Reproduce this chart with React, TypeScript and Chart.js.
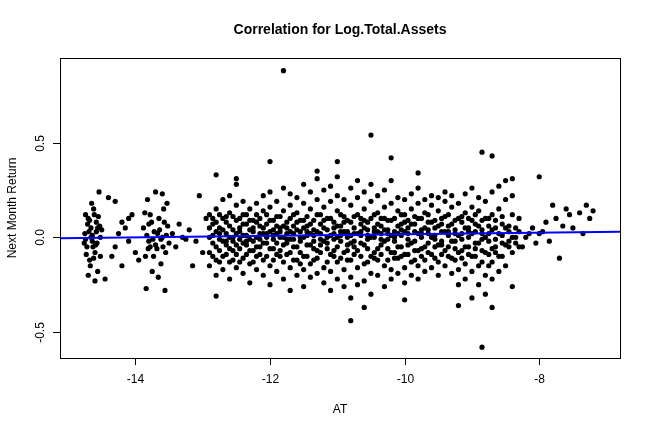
import { useEffect, useRef } from 'react';
import { Chart, registerables } from 'chart.js';

Chart.register(...registerables);

// sparse groups
const leftPts: [number, number][] = [
  [-14.75,0.02],[-14.72,-0.05],[-14.7,0.1],[-14.68,-0.12],[-14.66,0.05],[-14.64,-0.02],[-14.62,0.15],[-14.6,-0.08],
  [-14.58,0.08],[-14.56,-0.18],[-14.54,0.24],[-14.52,0.0],[-14.74,0.12],[-14.7,-0.2],[-14.65,0.18],[-14.6,-0.23],
  [-14.55,0.11],[-14.52,-0.1],[-14.73,-0.09],[-14.69,0.03],[-14.63,-0.05],[-14.58,0.03],[-14.53,0.06],[-14.71,0.07],
  [-14.67,-0.15],[-14.61,0.12],[-14.57,-0.03],[-14.5,0.04],[-14.76,-0.03],[-14.66,0.0],
  [-14.74,-0.01],[-14.68,0.09],[-14.62,-0.11],[-14.56,0.05],[-14.64,0.01],[-14.59,-0.04],
  [-14.4,0.21],[-14.35,-0.1],[-14.3,0.19],[-14.25,0.02],[-14.2,-0.15],[-14.15,0.05],[-14.1,-0.02],[-14.05,0.12],
  [-14.0,-0.08],[-14.45,-0.22],[-14.3,-0.05],[-14.2,0.08],[-14.1,0.1],[-13.95,-0.12],
  [-13.88,0.05],[-13.85,-0.1],[-13.82,0.2],[-13.8,-0.02],[-13.78,0.12],[-13.75,-0.18],[-13.72,0.03],[-13.7,0.24],
  [-13.68,-0.06],[-13.65,0.1],[-13.62,-0.14],[-13.6,0.0],[-13.58,0.15],[-13.55,-0.08],[-13.52,0.06],[-13.5,-0.03],
  [-13.84,-0.27],[-13.76,0.08],[-13.66,-0.21],[-13.6,0.23],[-13.56,-0.28],[-13.73,-0.1],[-13.8,0.07],[-13.64,0.04],
  [-13.7,-0.04],[-13.53,0.18],[-13.86,0.13],[-13.62,-0.01],[-13.57,0.08],[-13.78,-0.05],
  [-13.83,0.01],[-13.74,-0.01],[-13.67,0.02],[-13.59,-0.05],[-13.54,0.01],[-13.81,-0.06],
  [-13.45,0.02],[-13.4,-0.05],[-13.3,0.0],[-13.2,0.04],[-13.1,-0.02],[-13.05,0.22],[-13.0,-0.08],[-13.35,0.07],
  [-13.15,-0.15],[-12.95,0.1],[-13.25,-0.01],
];

const outlierPts: [number, number][] = [
  [-11.8,0.88],[-10.5,0.54],[-12.0,0.4],[-10.2,0.42],[-11.0,0.4],[-8.85,0.45],[-8.7,0.43],[-8.85,-0.58],
  [-10.8,-0.44],[-12.8,-0.31],[-9.2,-0.36],[-8.7,-0.37],[-10.6,-0.37],[-11.7,-0.28],[-12.5,0.31],[-12.8,0.33],
  [-9.8,0.34],[-11.3,0.35],[-8.4,0.31],[-10.0,-0.33],[-9.0,-0.32],[-8.4,-0.26],
];

const rightPts: [number, number][] = [
  [-8.2,0.0],[-8.1,0.05],[-8.05,-0.03],[-8.0,0.32],[-7.95,0.03],[-7.9,0.08],[-7.85,-0.02],[-7.8,0.17],[-7.75,0.1],
  [-7.7,-0.11],[-7.6,0.15],[-7.55,0.12],[-7.5,0.05],[-7.4,0.13],[-7.3,0.17],[-7.25,0.1],[-7.2,0.14],[-8.15,0.02],
  [-7.65,0.06],[-7.35,0.02],[-8.25,-0.05],[-8.0,0.02],
];

// dense core: one x per column with the y values seen there
const coreCols: [number, number[]][] = [
  [-12.9,[0.05,-0.08,0.12,-0.15,0.0]],
  [-12.8,[0.03,-0.05,0.15,-0.2,0.08,-0.12]],
  [-12.7,[0.1,-0.02,0.2,-0.1,0.04,-0.17]],
  [-12.6,[0.06,-0.06,0.13,-0.13,0.0,0.22,-0.22]],
  [-12.5,[0.02,-0.09,0.17,-0.04,0.09,-0.16,0.28]],
  [-12.4,[0.07,-0.03,0.12,-0.11,0.01,-0.19,0.19]],
  [-12.3,[0.04,-0.07,0.15,-0.14,0.09,-0.01,-0.24]],
  [-12.2,[0.0,0.08,-0.1,0.18,-0.05,0.12,-0.17]],
  [-12.1,[0.05,-0.03,0.14,-0.12,0.22,-0.2,0.02]],
  [-12.0,[0.09,-0.06,0.16,-0.15,0.03,-0.25,0.24]],
  [-11.9,[0.02,0.11,-0.09,0.19,-0.18,0.06,-0.03]],
  [-11.8,[0.06,-0.04,0.14,-0.13,0.26,-0.22,0.0]],
  [-11.7,[0.1,-0.08,0.17,-0.16,0.03,-0.01,0.23]],
  [-11.6,[0.04,-0.05,0.13,-0.2,0.21,-0.12,0.08]],
  [-11.5,[0.0,0.09,-0.1,0.18,-0.17,0.28,-0.26,0.05]],
  [-11.4,[0.07,-0.04,0.15,-0.14,0.24,-0.21,0.02]],
  [-11.3,[0.03,-0.07,0.12,-0.11,0.2,-0.19,0.31]],
  [-11.2,[0.05,-0.02,0.16,-0.16,0.25,-0.24,0.09]],
  [-11.1,[0.01,0.1,-0.09,0.19,-0.18,0.27,-0.28]],
  [-11.0,[0.06,-0.05,0.14,-0.13,0.22,-0.22,0.0,0.32]],
  [-10.9,[0.03,-0.08,0.11,-0.17,0.2,-0.26,0.08]],
  [-10.8,[0.08,-0.03,0.17,-0.12,0.26,-0.21,0.01,-0.32]],
  [-10.7,[0.02,0.12,-0.07,0.21,-0.16,0.3,-0.25]],
  [-10.6,[0.05,-0.04,0.15,-0.14,0.24,-0.23,0.09]],
  [-10.5,[0.0,0.1,-0.1,0.19,-0.19,0.28,-0.3]],
  [-10.4,[0.07,-0.06,0.13,-0.12,0.22,-0.2,0.03]],
  [-10.3,[0.04,-0.02,0.16,-0.15,0.25,-0.26,0.1]],
  [-10.2,[0.01,0.09,-0.08,0.18,-0.17,0.3,-0.22]],
  [-10.1,[0.06,-0.05,0.14,-0.11,0.21,-0.19,0.02]],
  [-10.0,[0.03,-0.09,0.12,-0.16,0.2,-0.24,0.08]],
  [-9.9,[0.07,-0.03,0.15,-0.13,0.23,-0.2]],
  [-9.8,[0.02,0.1,-0.07,0.18,-0.15,0.26,-0.22]],
  [-9.7,[0.05,-0.05,0.13,-0.12,0.2,-0.18]],
  [-9.6,[0.0,0.08,-0.09,0.17,-0.16,0.22]],
  [-9.5,[0.06,-0.04,0.14,-0.13,0.21,-0.2]],
  [-9.4,[0.03,-0.07,0.11,-0.15,0.19,0.24]],
  [-9.3,[0.07,-0.02,0.16,-0.11,0.22,-0.19]],
  [-9.2,[0.01,0.1,-0.08,0.18,-0.17,-0.25]],
  [-9.1,[0.05,-0.05,0.13,-0.14,0.23,-0.22]],
  [-9.0,[0.02,0.09,-0.1,0.16,-0.18,0.26]],
  [-8.9,[0.06,-0.03,0.14,-0.15,0.21,-0.25]],
  [-8.8,[0.0,0.1,-0.08,0.19,-0.2,-0.3]],
  [-8.7,[0.04,-0.06,0.12,-0.13,0.24,-0.22]],
  [-8.6,[0.02,-0.1,0.15,0.27,-0.18]],
  [-8.5,[0.05,-0.04,0.2,-0.15,0.3]],
  [-8.4,[0.0,0.12,-0.08,0.22]],
  [-8.3,[0.03,-0.05,0.1]],
];

// in-between columns, packed round zero where the cloud is solid
const coreCols2: [number, number[]][] = [
  [-12.85,[0.01,-0.03,0.07,-0.1,0.1]],
  [-12.75,[-0.01,0.05,-0.07,0.12,-0.13,0.02]],
  [-12.65,[0.02,-0.04,0.08,-0.09,0.11,-0.02]],
  [-12.55,[0.04,-0.02,0.11,-0.07,0.0,-0.12]],
  [-12.45,[-0.01,0.05,-0.06,0.1,-0.13,0.03]],
  [-12.35,[0.01,-0.04,0.07,-0.09,0.12,-0.02]],
  [-12.25,[0.03,-0.02,0.09,-0.07,0.05,-0.13]],
  [-12.15,[-0.01,0.06,-0.05,0.1,-0.09,0.02]],
  [-12.05,[0.02,-0.03,0.07,-0.1,0.12,0.0]],
  [-11.95,[0.04,-0.01,0.09,-0.06,-0.12,0.01]],
  [-11.85,[0.0,0.05,-0.07,0.11,-0.1,0.03]],
  [-11.75,[0.02,-0.03,0.08,-0.09,0.05,-0.01]],
  [-11.65,[-0.01,0.06,-0.05,0.12,-0.12,0.02]],
  [-11.55,[0.03,-0.02,0.09,-0.08,0.0,-0.14]],
  [-11.45,[0.01,-0.04,0.06,-0.1,0.11,0.03]],
  [-11.35,[-0.02,0.04,-0.06,0.09,-0.12,0.01]],
  [-11.25,[0.02,-0.01,0.07,-0.08,0.12,-0.04]],
  [-11.15,[0.04,-0.03,0.1,-0.06,0.0,-0.13]],
  [-11.05,[-0.01,0.05,-0.07,0.08,-0.1,0.02]],
  [-10.95,[0.01,-0.02,0.06,-0.11,0.12,0.03]],
  [-10.85,[0.03,-0.04,0.09,-0.07,0.0,-0.12]],
  [-10.75,[-0.02,0.05,-0.05,0.11,-0.09,0.02]],
  [-10.65,[0.01,-0.03,0.07,-0.1,0.1,0.03]],
  [-10.55,[0.04,-0.01,0.08,-0.06,-0.13,0.01]],
  [-10.45,[0.0,0.05,-0.08,0.12,-0.11,0.03]],
  [-10.35,[0.02,-0.04,0.06,-0.09,0.1,-0.01]],
  [-10.25,[-0.01,0.04,-0.06,0.09,-0.12,0.02]],
  [-10.15,[0.03,-0.02,0.1,-0.08,0.0,-0.11]],
  [-10.05,[0.01,-0.05,0.07,-0.1,0.12,0.04]],
  [-9.95,[-0.01,0.05,-0.04,0.09,-0.09,0.02]],
  [-9.85,[0.03,-0.02,0.07,-0.07,0.11,-0.12]],
  [-9.75,[0.0,0.04,-0.06,0.1,-0.1,0.02]],
  [-9.65,[0.02,-0.03,0.08,-0.08,0.12,0.04]],
  [-9.55,[-0.01,0.05,-0.05,0.09,-0.11,0.01]],
  [-9.45,[0.03,-0.02,0.07,-0.09,0.1,-0.04]],
  [-9.35,[0.01,-0.05,0.06,-0.1,0.12,0.03]],
  [-9.25,[-0.02,0.04,-0.06,0.09,-0.12,0.02]],
  [-9.15,[0.02,-0.01,0.08,-0.07,0.11,-0.11]],
  [-9.05,[0.0,0.05,-0.05,0.1,-0.09,0.03]],
  [-8.95,[0.03,-0.03,0.07,-0.1,0.12,-0.06]],
  [-8.85,[-0.01,0.04,-0.07,0.09,-0.13,0.02]],
  [-8.75,[0.02,-0.02,0.06,-0.09,0.1,-0.15]],
  [-8.65,[-0.01,0.05,-0.05,0.09,-0.08]],
  [-8.55,[0.01,-0.03,0.07,-0.1,0.11]],
  [-8.45,[0.03,-0.02,0.06,-0.05]],
  [-8.35,[0.0,0.05,-0.03]],
];

const fitLine: [number, number][] = [[-15.12, -0.005], [-6.8, 0.03]];
const xTicks = [-14, -12, -10, -8];
const yTicks = [-0.5, 0, 0.5];

const FONT = '"Liberation Sans", Arial, sans-serif';

const rFrame = {
  id: 'rFrame',
  afterDraw(chart: Chart) {
    const { ctx, chartArea: a, scales } = chart;
    ctx.save();
    ctx.strokeStyle = '#000';
    ctx.fillStyle = '#000';
    ctx.lineWidth = 1;
    ctx.strokeRect(a.left + 0.5, a.top + 0.5, a.width, a.height);
    ctx.font = `12px ${FONT}`;
    ctx.textAlign = 'center';
    ctx.textBaseline = 'top';
    xTicks.forEach((v) => {
      const px = Math.round(scales.x.getPixelForValue(v)) + 0.5;
      ctx.beginPath(); ctx.moveTo(px, a.bottom); ctx.lineTo(px, a.bottom + 7); ctx.stroke();
      ctx.fillText(String(v), px, a.bottom + 16);
    });
    yTicks.forEach((v) => {
      const py = Math.round(scales.y.getPixelForValue(v)) + 0.5;
      ctx.beginPath(); ctx.moveTo(a.left, py); ctx.lineTo(a.left - 7, py); ctx.stroke();
      ctx.save();
      ctx.translate(a.left - 17, py);
      ctx.rotate(-Math.PI / 2);
      ctx.textBaseline = 'bottom';
      ctx.fillText(v.toFixed(1), 0, 4);
      ctx.restore();
    });
    ctx.fillText('AT', (a.left + a.right) / 2, 404);
    ctx.save();
    ctx.translate(10, (a.top + a.bottom) / 2);
    ctx.rotate(-Math.PI / 2);
    ctx.fillText('Next Month Return', 0, -3);
    ctx.restore();
    ctx.font = `bold 14px ${FONT}`;
    ctx.textBaseline = 'middle';
    ctx.fillText('Correlation for Log.Total.Assets', (a.left + a.right) / 2, 30);
    ctx.restore();
  },
};

export default function App() {
  const ref = useRef<HTMLCanvasElement>(null);
  const chartRef = useRef<Chart | null>(null);

  useEffect(() => {
    if (!ref.current) return;
    document.body.style.margin = '0';
    const cols = [...coreCols, ...coreCols2];
    const points = [
      ...leftPts,
      ...cols.flatMap(([x, ys]) => ys.map((y) => [x, y] as [number, number])),
      ...outlierPts,
      ...rightPts,
    ].map(([x, y]) => ({ x, y }));

    chartRef.current?.destroy();
    chartRef.current = new Chart(ref.current, {
      type: 'scatter',
      data: {
        datasets: [
          {
            data: fitLine.map(([x, y]) => ({ x, y })),
            showLine: true, borderColor: '#0000ff', borderWidth: 2, pointRadius: 0, order: 0,
          },
          {
            data: points,
            backgroundColor: '#000', borderColor: '#000', pointRadius: 2.6, borderWidth: 0, order: 1,
          },
        ],
      },
      options: {
        animation: false, responsive: false, events: [],
        layout: { padding: { top: 58, right: 28, left: 0, bottom: 0 } },
        plugins: { legend: { display: false }, tooltip: { enabled: false } },
        scales: {
          x: {
            type: 'linear', min: -15.12, max: -6.8,
            grid: { display: false }, border: { display: false }, ticks: { display: false },
            afterFit: (s: any) => { s.height = 74; },
          },
          y: {
            type: 'linear', min: -0.637, max: 0.947,
            grid: { display: false }, border: { display: false }, ticks: { display: false },
            afterFit: (s: any) => { s.width = 60; },
          },
        },
      },
      plugins: [rFrame],
    });
    return () => { chartRef.current?.destroy(); };
  }, []);

  return <canvas ref={ref} width={648} height={432} style={{ display: 'block' }} />;
}
